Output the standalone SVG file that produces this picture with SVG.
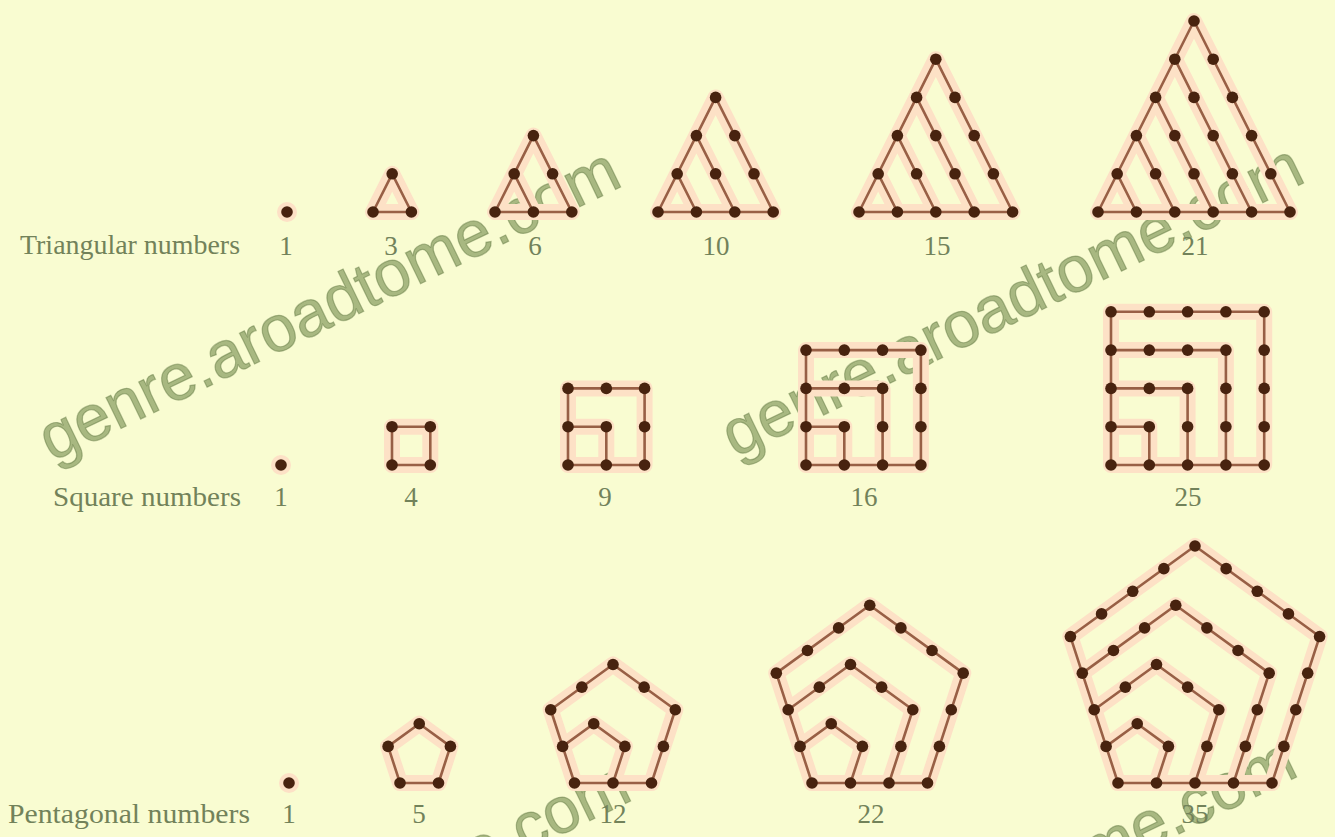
<svg xmlns="http://www.w3.org/2000/svg" xmlns:xlink="http://www.w3.org/1999/xlink" width="1335" height="837" viewBox="0 0 1335 837">
<style>
.halo{fill:none;stroke:#fde1c6;stroke-width:16;stroke-linejoin:round;stroke-linecap:round}
.hdot{fill:#fde1c6}
.ln{fill:none;stroke:#985f45;stroke-width:2.6;stroke-linejoin:round}
.lbl{font-family:"Liberation Serif","Times New Roman",serif;font-size:27px;fill:#72825a}
.num{text-anchor:middle}
.wm{font-family:"Liberation Sans",Arial,sans-serif;font-size:65px;fill:#66803f;fill-opacity:0.55;stroke:#4f6a33;stroke-opacity:0.4;stroke-width:1.2}
</style>
<defs>
<circle id="d" r="5.8" fill="#48230f"/>
<g id="pd1"><use href="#d" x="38.5" y="0"/><use href="#d" x="50.4" y="-36.62"/><use href="#d" x="19.25" y="-59.25"/><use href="#d" x="-11.9" y="-36.62"/></g>
<g id="pd2"><use href="#d" x="77" y="0"/><use href="#d" x="88.9" y="-36.62"/><use href="#d" x="100.79" y="-73.23"/><use href="#d" x="69.65" y="-95.86"/><use href="#d" x="38.5" y="-118.49"/><use href="#d" x="7.35" y="-95.86"/><use href="#d" x="-23.79" y="-73.23"/></g>
<g id="pd3"><use href="#d" x="115.5" y="0"/><use href="#d" x="127.4" y="-36.62"/><use href="#d" x="139.29" y="-73.23"/><use href="#d" x="151.19" y="-109.85"/><use href="#d" x="120.04" y="-132.48"/><use href="#d" x="88.9" y="-155.11"/><use href="#d" x="57.75" y="-177.74"/><use href="#d" x="26.6" y="-155.11"/><use href="#d" x="-4.55" y="-132.48"/><use href="#d" x="-35.69" y="-109.85"/></g>
<g id="pd4"><use href="#d" x="154" y="0"/><use href="#d" x="165.9" y="-36.62"/><use href="#d" x="177.79" y="-73.23"/><use href="#d" x="189.69" y="-109.85"/><use href="#d" x="201.59" y="-146.46"/><use href="#d" x="170.44" y="-169.09"/><use href="#d" x="139.29" y="-191.72"/><use href="#d" x="108.15" y="-214.35"/><use href="#d" x="77" y="-236.98"/><use href="#d" x="45.85" y="-214.35"/><use href="#d" x="14.71" y="-191.72"/><use href="#d" x="-16.44" y="-169.09"/><use href="#d" x="-47.59" y="-146.46"/></g>
</defs>
<rect width="1335" height="837" fill="#f9fcd1"/>

<!-- watermark -->
<g id="watermark">
<text class="wm" transform="translate(52,462) rotate(-25.8)">genre.aroadtome.com</text>
<text class="wm" transform="translate(735,458) rotate(-25.8)">genre.aroadtome.com</text>
<text class="wm" transform="translate(62,1076) rotate(-25.8)">genre.aroadtome.com</text>
<text class="wm" transform="translate(728,1052) rotate(-25.8)">genre.aroadtome.com</text>
</g>

<!-- row labels -->
<g id="labels">
<text class="lbl" x="20" y="254" textLength="220" lengthAdjust="spacingAndGlyphs">Triangular numbers</text>
<text class="lbl" x="53" y="506" textLength="188" lengthAdjust="spacingAndGlyphs">Square numbers</text>
<text class="lbl" x="8" y="823" textLength="242" lengthAdjust="spacingAndGlyphs">Pentagonal numbers</text>
</g>

<!-- Triangular -->
<g id="t1"><circle class="hdot" cx="287" cy="212" r="10"/><use href="#d" x="287" y="212"/><text class="lbl num" x="286" y="255">1</text></g>
<g id="t3"><g transform="translate(373,212)"><path class="halo" d="M0,0 H38.4 L19.2,-38.2 Z"/><path class="ln" d="M0,0 H38.4 L19.2,-38.2 Z"/>
<use href="#d" x="0" y="0"/><use href="#d" x="38.4" y="0"/><use href="#d" x="19.2" y="-38.2"/></g>
<text class="lbl num" x="391" y="255">3</text></g>
<g id="t6"><g transform="translate(495,212)"><path class="halo" d="M0,0 H76.8 L38.4,-76.4 Z M19.2,-38.2 L38.4,0"/><path class="ln" d="M0,0 H76.8 L38.4,-76.4 Z M19.2,-38.2 L38.4,0"/>
<use href="#d" x="0" y="0"/><use href="#d" x="38.4" y="0"/><use href="#d" x="76.8" y="0"/><use href="#d" x="19.2" y="-38.2"/><use href="#d" x="57.6" y="-38.2"/><use href="#d" x="38.4" y="-76.4"/></g>
<text class="lbl num" x="535" y="255">6</text></g>
<g id="t10"><g transform="translate(658,212)"><path class="halo" d="M0,0 H115.2 L57.6,-114.6 Z M19.2,-38.2 L38.4,0 M38.4,-76.4 L76.8,0"/><path class="ln" d="M0,0 H115.2 L57.6,-114.6 Z M19.2,-38.2 L38.4,0 M38.4,-76.4 L76.8,0"/>
<use href="#d" x="0" y="0"/><use href="#d" x="38.4" y="0"/><use href="#d" x="76.8" y="0"/><use href="#d" x="115.2" y="0"/>
<use href="#d" x="19.2" y="-38.2"/><use href="#d" x="57.6" y="-38.2"/><use href="#d" x="96" y="-38.2"/>
<use href="#d" x="38.4" y="-76.4"/><use href="#d" x="76.8" y="-76.4"/><use href="#d" x="57.6" y="-114.6"/></g>
<text class="lbl num" x="716" y="255">10</text></g>
<g id="t15"><g transform="translate(859,212)"><path class="halo" d="M0,0 H153.6 L76.8,-152.8 Z M19.2,-38.2 L38.4,0 M38.4,-76.4 L76.8,0 M57.6,-114.6 L115.2,0"/><path class="ln" d="M0,0 H153.6 L76.8,-152.8 Z M19.2,-38.2 L38.4,0 M38.4,-76.4 L76.8,0 M57.6,-114.6 L115.2,0"/>
<use href="#d" x="0" y="0"/><use href="#d" x="38.4" y="0"/><use href="#d" x="76.8" y="0"/><use href="#d" x="115.2" y="0"/><use href="#d" x="153.6" y="0"/>
<use href="#d" x="19.2" y="-38.2"/><use href="#d" x="57.6" y="-38.2"/><use href="#d" x="96" y="-38.2"/><use href="#d" x="134.4" y="-38.2"/>
<use href="#d" x="38.4" y="-76.4"/><use href="#d" x="76.8" y="-76.4"/><use href="#d" x="115.2" y="-76.4"/>
<use href="#d" x="57.6" y="-114.6"/><use href="#d" x="96" y="-114.6"/><use href="#d" x="76.8" y="-152.8"/></g>
<text class="lbl num" x="937" y="255">15</text></g>
<g id="t21"><g transform="translate(1098,212)"><path class="halo" d="M0,0 H192 L96,-191 Z M19.2,-38.2 L38.4,0 M38.4,-76.4 L76.8,0 M57.6,-114.6 L115.2,0 M76.8,-152.8 L153.6,0"/><path class="ln" d="M0,0 H192 L96,-191 Z M19.2,-38.2 L38.4,0 M38.4,-76.4 L76.8,0 M57.6,-114.6 L115.2,0 M76.8,-152.8 L153.6,0"/>
<use href="#d" x="0" y="0"/><use href="#d" x="38.4" y="0"/><use href="#d" x="76.8" y="0"/><use href="#d" x="115.2" y="0"/><use href="#d" x="153.6" y="0"/><use href="#d" x="192" y="0"/>
<use href="#d" x="19.2" y="-38.2"/><use href="#d" x="57.6" y="-38.2"/><use href="#d" x="96" y="-38.2"/><use href="#d" x="134.4" y="-38.2"/><use href="#d" x="172.8" y="-38.2"/>
<use href="#d" x="38.4" y="-76.4"/><use href="#d" x="76.8" y="-76.4"/><use href="#d" x="115.2" y="-76.4"/><use href="#d" x="153.6" y="-76.4"/>
<use href="#d" x="57.6" y="-114.6"/><use href="#d" x="96" y="-114.6"/><use href="#d" x="134.4" y="-114.6"/>
<use href="#d" x="76.8" y="-152.8"/><use href="#d" x="115.2" y="-152.8"/><use href="#d" x="96" y="-191"/></g>
<text class="lbl num" x="1195" y="255">21</text></g>

<!-- Square -->
<g id="s1"><circle class="hdot" cx="281" cy="465" r="10"/><use href="#d" x="281" y="465"/><text class="lbl num" x="281" y="506">1</text></g>
<g id="s4"><g transform="translate(392,465)"><path class="halo" d="M0,0 H38.3 V-38.3 H0 Z"/><path class="ln" d="M0,0 H38.3 V-38.3 H0 Z"/>
<use href="#d" x="0" y="0"/><use href="#d" x="38.3" y="0"/><use href="#d" x="0" y="-38.3"/><use href="#d" x="38.3" y="-38.3"/></g>
<text class="lbl num" x="411" y="506">4</text></g>
<g id="s9"><g transform="translate(568,465)"><path class="halo" d="M0,0 H76.6 V-76.6 H0 Z M0,-38.3 H38.3 V0"/><path class="ln" d="M0,0 H76.6 V-76.6 H0 Z M0,-38.3 H38.3 V0"/>
<use href="#d" x="0" y="0"/><use href="#d" x="38.3" y="0"/><use href="#d" x="76.6" y="0"/>
<use href="#d" x="0" y="-38.3"/><use href="#d" x="38.3" y="-38.3"/><use href="#d" x="76.6" y="-38.3"/>
<use href="#d" x="0" y="-76.6"/><use href="#d" x="38.3" y="-76.6"/><use href="#d" x="76.6" y="-76.6"/></g>
<text class="lbl num" x="605" y="506">9</text></g>
<g id="s16"><g transform="translate(806,465)"><path class="halo" d="M0,0 H114.9 V-114.9 H0 Z M0,-38.3 H38.3 V0 M0,-76.6 H76.6 V0"/><path class="ln" d="M0,0 H114.9 V-114.9 H0 Z M0,-38.3 H38.3 V0 M0,-76.6 H76.6 V0"/>
<use href="#d" x="0" y="0"/><use href="#d" x="38.3" y="0"/><use href="#d" x="76.6" y="0"/><use href="#d" x="114.9" y="0"/>
<use href="#d" x="0" y="-38.3"/><use href="#d" x="38.3" y="-38.3"/><use href="#d" x="76.6" y="-38.3"/><use href="#d" x="114.9" y="-38.3"/>
<use href="#d" x="0" y="-76.6"/><use href="#d" x="38.3" y="-76.6"/><use href="#d" x="76.6" y="-76.6"/><use href="#d" x="114.9" y="-76.6"/>
<use href="#d" x="0" y="-114.9"/><use href="#d" x="38.3" y="-114.9"/><use href="#d" x="76.6" y="-114.9"/><use href="#d" x="114.9" y="-114.9"/></g>
<text class="lbl num" x="864" y="506">16</text></g>
<g id="s25"><g transform="translate(1111,465)"><path class="halo" d="M0,0 H153.2 V-153.2 H0 Z M0,-38.3 H38.3 V0 M0,-76.6 H76.6 V0 M0,-114.9 H114.9 V0"/><path class="ln" d="M0,0 H153.2 V-153.2 H0 Z M0,-38.3 H38.3 V0 M0,-76.6 H76.6 V0 M0,-114.9 H114.9 V0"/>
<use href="#d" x="0" y="0"/><use href="#d" x="38.3" y="0"/><use href="#d" x="76.6" y="0"/><use href="#d" x="114.9" y="0"/><use href="#d" x="153.2" y="0"/>
<use href="#d" x="0" y="-38.3"/><use href="#d" x="38.3" y="-38.3"/><use href="#d" x="76.6" y="-38.3"/><use href="#d" x="114.9" y="-38.3"/><use href="#d" x="153.2" y="-38.3"/>
<use href="#d" x="0" y="-76.6"/><use href="#d" x="38.3" y="-76.6"/><use href="#d" x="76.6" y="-76.6"/><use href="#d" x="114.9" y="-76.6"/><use href="#d" x="153.2" y="-76.6"/>
<use href="#d" x="0" y="-114.9"/><use href="#d" x="38.3" y="-114.9"/><use href="#d" x="76.6" y="-114.9"/><use href="#d" x="114.9" y="-114.9"/><use href="#d" x="153.2" y="-114.9"/>
<use href="#d" x="0" y="-153.2"/><use href="#d" x="38.3" y="-153.2"/><use href="#d" x="76.6" y="-153.2"/><use href="#d" x="114.9" y="-153.2"/><use href="#d" x="153.2" y="-153.2"/></g>
<text class="lbl num" x="1188" y="506">25</text></g>

<!-- Pentagonal -->
<g id="p1"><circle class="hdot" cx="289" cy="783" r="10"/><use href="#d" x="289" y="783"/><text class="lbl num" x="289" y="823">1</text></g>
<g id="p5"><g transform="translate(400,783)"><path class="halo" d="M0,0 H38.5 L50.4,-36.62 L19.25,-59.25 L-11.9,-36.62 Z"/><path class="ln" d="M0,0 H38.5 L50.4,-36.62 L19.25,-59.25 L-11.9,-36.62 Z"/>
<use href="#d" x="0" y="0"/><use href="#pd1"/></g>
<text class="lbl num" x="419" y="823">5</text></g>
<g id="p12"><g transform="translate(574.5,783)"><path class="halo" d="M0,0 H77 L100.79,-73.23 L38.5,-118.49 L-23.79,-73.23 Z M38.5,0 L50.4,-36.62 L19.25,-59.25 L-11.9,-36.62"/><path class="ln" d="M0,0 H77 L100.79,-73.23 L38.5,-118.49 L-23.79,-73.23 Z M38.5,0 L50.4,-36.62 L19.25,-59.25 L-11.9,-36.62"/>
<use href="#d" x="0" y="0"/><use href="#pd1"/><use href="#pd2"/></g>
<text class="lbl num" x="613" y="823">12</text></g>
<g id="p22"><g transform="translate(812,783)"><path class="halo" d="M0,0 H115.5 L151.19,-109.85 L57.75,-177.74 L-35.69,-109.85 Z M38.5,0 L50.4,-36.62 L19.25,-59.25 L-11.9,-36.62 M77,0 L100.79,-73.23 L38.5,-118.49 L-23.79,-73.23"/><path class="ln" d="M0,0 H115.5 L151.19,-109.85 L57.75,-177.74 L-35.69,-109.85 Z M38.5,0 L50.4,-36.62 L19.25,-59.25 L-11.9,-36.62 M77,0 L100.79,-73.23 L38.5,-118.49 L-23.79,-73.23"/>
<use href="#d" x="0" y="0"/><use href="#pd1"/><use href="#pd2"/><use href="#pd3"/></g>
<text class="lbl num" x="871" y="823">22</text></g>
<g id="p35"><g transform="translate(1118,783)"><path class="halo" d="M0,0 H154 L201.59,-146.46 L77,-236.98 L-47.59,-146.46 Z M38.5,0 L50.4,-36.62 L19.25,-59.25 L-11.9,-36.62 M77,0 L100.79,-73.23 L38.5,-118.49 L-23.79,-73.23 M115.5,0 L151.19,-109.85 L57.75,-177.74 L-35.69,-109.85"/><path class="ln" d="M0,0 H154 L201.59,-146.46 L77,-236.98 L-47.59,-146.46 Z M38.5,0 L50.4,-36.62 L19.25,-59.25 L-11.9,-36.62 M77,0 L100.79,-73.23 L38.5,-118.49 L-23.79,-73.23 M115.5,0 L151.19,-109.85 L57.75,-177.74 L-35.69,-109.85"/>
<use href="#d" x="0" y="0"/><use href="#pd1"/><use href="#pd2"/><use href="#pd3"/><use href="#pd4"/></g>
<text class="lbl num" x="1195" y="823">35</text></g>
</svg>
